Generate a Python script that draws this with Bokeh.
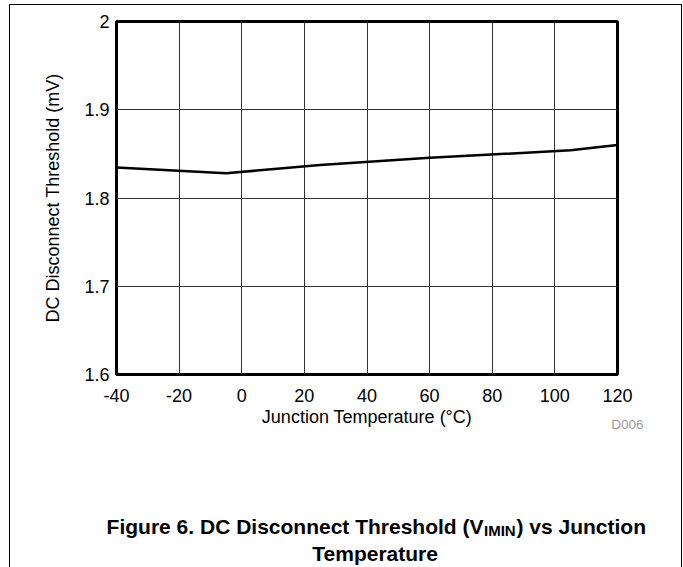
from bokeh.plotting import figure
from bokeh.models import Range1d, FixedTicker, CustomJSTickFormatter, Label
from bokeh.embed import file_html
from bokeh.resources import INLINE

# ---- data ----
temperature_c = [-40, -5, 25, 60, 105, 120]
threshold_mv = [1.8345, 1.828, 1.8375, 1.8455, 1.854, 1.860]
x_ticks = [-40, -20, 0, 20, 40, 60, 80, 100, 120]
y_ticks = [1.6, 1.7, 1.8, 1.9, 2.0]
x_label = "Junction Temperature (\u00b0C)"
y_label = "DC Disconnect Threshold (mV)"
caption_a = "Figure 6. DC Disconnect Threshold (V"
caption_sub = "IMIN"
caption_b = ") vs Junction"
caption_2 = "Temperature"
code_tag = "D006"

# ---- layout ----
W, H = 683, 567
ML, MR, MT, MB = 116, 66, 21, 193
L, R, T, B = ML, W - MR, MT, H - MB
X0, X1 = -40, 120
Y0, Y1 = 1.6, 2.0
FONT = "Liberation Sans"
DY = -8  # empirical correction for label baselines in the side panel


def fx(px):
    return X0 + (px - L) / (R - L) * (X1 - X0)


def fy(py):
    return Y0 + (B - (py + DY)) / (B - T) * (Y1 - Y0)


p = figure(width=W, height=H, output_backend="svg", toolbar_location=None,
           x_range=Range1d(X0, X1), y_range=Range1d(Y0, Y1),
           min_border_left=ML, min_border_right=MR, min_border_top=MT, min_border_bottom=MB)
p.background_fill_color = "white"
p.border_fill_color = None
# page frame lines (left, top, right) painted behind the transparent border area
p.styles = {
    "background": (
        "linear-gradient(#000,#000) 9px 4px / 1px 600px no-repeat, "
        "linear-gradient(#000,#000) 9px 4px / 673px 1px no-repeat, "
        "linear-gradient(#000,#000) 681px 4px / 1px 600px no-repeat, #ffffff"
    )
}
p.outline_line_color = "black"
p.outline_line_width = 3

p.line(temperature_c, threshold_mv, line_color="black", line_width=2.5)

for ax in (p.xaxis[0], p.yaxis[0]):
    ax.axis_line_color = None
    ax.major_tick_line_color = None
    ax.minor_tick_line_color = None
    ax.major_tick_out = 0
    ax.major_tick_in = 0
    ax.major_label_text_font = FONT
    ax.major_label_text_font_size = "18px"
    ax.major_label_text_color = "black"
    ax.axis_label_text_font = FONT
    ax.axis_label_text_font_size = "18px"
    ax.axis_label_text_font_style = "normal"
    ax.axis_label_text_color = "black"

p.xaxis.ticker = FixedTicker(ticks=x_ticks)
p.yaxis.ticker = FixedTicker(ticks=y_ticks)
p.xaxis.formatter = CustomJSTickFormatter(code="return String(Math.round(tick));")
p.yaxis.formatter = CustomJSTickFormatter(code="return String(Math.round(tick*10)/10);")
p.xaxis.major_label_standoff = 14
p.yaxis.major_label_standoff = 7
p.xaxis.axis_label = x_label
p.yaxis.axis_label = y_label
p.xaxis.axis_label_standoff = 2
p.yaxis.axis_label_standoff = 18

p.xgrid.ticker = FixedTicker(ticks=x_ticks)
p.ygrid.ticker = FixedTicker(ticks=y_ticks)
for g in (p.xgrid[0], p.ygrid[0]):
    g.grid_line_color = "#333333"
    g.grid_line_width = 1

# texts below the plot (in the side panel so they are not clipped to the frame)
labels = [
    Label(x=fx(643), y=fy(432), text=code_tag, text_align="right",
          text_baseline="alphabetic", text_font=FONT,
          text_font_size="13.5px", text_color="#999999"),
    Label(x=fx(483), y=fy(534), text=caption_a, text_align="right",
          text_baseline="alphabetic", text_font=FONT, text_font_style="bold",
          text_font_size="21px", text_color="black"),
    Label(x=fx(483.5), y=fy(537.5), text=caption_sub, text_align="left",
          text_baseline="alphabetic", text_font=FONT, text_font_style="bold",
          text_font_size="15px", text_color="black"),
    Label(x=fx(516), y=fy(534), text=caption_b, text_align="left",
          text_baseline="alphabetic", text_font=FONT, text_font_style="bold",
          text_font_size="21px", text_color="black"),
    Label(x=fx(374.6), y=fy(561), text=caption_2, text_align="center",
          text_baseline="alphabetic", text_font=FONT, text_font_style="bold",
          text_font_size="21px", text_color="black"),
]
for lab in labels:
    p.add_layout(lab, "below")

open("out.html", "w").write(file_html(p, INLINE))
